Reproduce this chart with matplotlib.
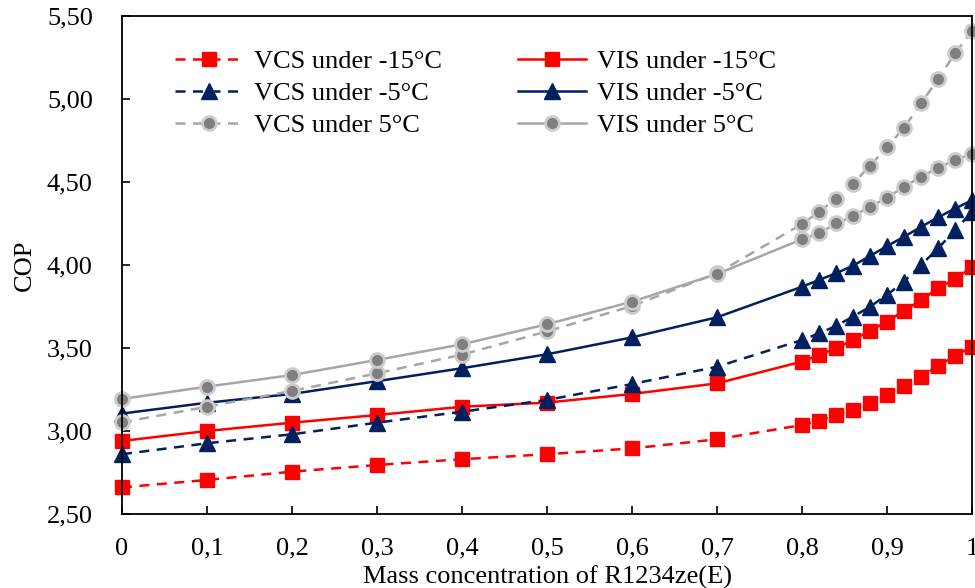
import matplotlib
matplotlib.use('Agg')
import matplotlib.pyplot as plt
from matplotlib.ticker import FuncFormatter, MultipleLocator

plt.rcParams['font.family'] = ['Liberation Serif', 'DejaVu Serif']

# Data
mass_conc = [0, 0.1, 0.2, 0.3, 0.4, 0.5, 0.6, 0.7, 0.8, 0.82, 0.84, 0.86,
             0.88, 0.9, 0.92, 0.94, 0.96, 0.98, 1.0]

vcs_m15 = [2.66, 2.705, 2.755, 2.795, 2.83, 2.86, 2.895, 2.95, 3.036, 3.062,
           3.096, 3.127, 3.167, 3.217, 3.271, 3.327, 3.392, 3.452, 3.508]
vis_m15 = [2.94, 3.0, 3.05, 3.096, 3.146, 3.171, 3.223, 3.287, 3.418, 3.458,
           3.498, 3.548, 3.604, 3.659, 3.725, 3.789, 3.86, 3.916, 3.988]
vcs_m5 = [2.86, 2.926, 2.98, 3.05, 3.116, 3.187, 3.283, 3.387, 3.548, 3.588,
          3.633, 3.689, 3.749, 3.82, 3.90, 4.0, 4.10, 4.21, 4.32]
vis_m5 = [3.105, 3.17, 3.223, 3.30, 3.378, 3.462, 3.564, 3.685, 3.869, 3.91,
          3.95, 3.996, 4.054, 4.114, 4.17, 4.23, 4.287, 4.34, 4.39]
vcs_5 = [3.052, 3.146, 3.241, 3.347, 3.46, 3.60, 3.753, 3.95, 4.247, 4.32,
         4.40, 4.49, 4.598, 4.71, 4.827, 4.974, 5.12, 5.275, 5.41]
vis_5 = [3.193, 3.267, 3.337, 3.428, 3.522, 3.643, 3.779, 3.946, 4.155, 4.19,
         4.25, 4.295, 4.351, 4.405, 4.472, 4.532, 4.586, 4.633, 4.669]

RED = '#FF0000'
NAVY = '#002060'
GRAY = '#A6A6A6'
DOT_FILL = '#7F7F7F'
DOT_EDGE = '#CCCCCC'

fig = plt.figure(figsize=(9.75, 5.88), dpi=100)
ax = fig.add_axes([0.1251, 0.1259, 0.8719, 0.8469])

dash = (0, (4, 3))
lw = 1.8

# Drawing order follows the reference overlaps
l1, = ax.plot(mass_conc, vcs_m15, linestyle=dash, color=RED, lw=lw, marker='s',
              ms=10, mfc=RED, mec=RED, clip_on=False, label='VCS under -15°C')
l4, = ax.plot(mass_conc, vis_m15, linestyle='-', color=RED, lw=lw, marker='s',
              ms=10, mfc=RED, mec=RED, clip_on=False, label='VIS under -15°C')
l2, = ax.plot(mass_conc, vcs_m5, linestyle=dash, color=NAVY, lw=lw, marker='^',
              ms=11, mfc=NAVY, mec=NAVY, clip_on=False, label='VCS under -5°C')
l5, = ax.plot(mass_conc, vis_m5, linestyle='-', color=NAVY, lw=lw, marker='^',
              ms=11, mfc=NAVY, mec=NAVY, clip_on=False, label='VIS under -5°C')
l3, = ax.plot(mass_conc, vcs_5, linestyle=dash, color=GRAY, lw=lw, marker='o',
              ms=10, mfc=DOT_FILL, mec=DOT_EDGE, mew=2.0, clip_on=False,
              label='VCS under 5°C')
l6, = ax.plot(mass_conc, vis_5, linestyle='-', color=GRAY, lw=lw, marker='o',
              ms=10, mfc=DOT_FILL, mec=DOT_EDGE, mew=2.0, clip_on=False,
              label='VIS under 5°C')

ax.set_xlim(0, 1)
ax.set_ylim(2.5, 5.5)
ax.xaxis.set_major_locator(MultipleLocator(0.1))
ax.yaxis.set_major_locator(MultipleLocator(0.5))


# Decimal comma labels
def fmt_x(v, pos):
    if abs(v) < 1e-9:
        return '0'
    if abs(v - 1) < 1e-9:
        return '1'
    return '{:.1f}'.format(v).replace('.', ',')


def fmt_y(v, pos):
    return '{:.2f}'.format(v).replace('.', ',')


ax.xaxis.set_major_formatter(FuncFormatter(fmt_x))
ax.yaxis.set_major_formatter(FuncFormatter(fmt_y))
ax.tick_params(direction='in', length=6, width=1.2, labelsize=19,
               colors='black')
ax.tick_params(axis='x', pad=17)
ax.tick_params(axis='y', pad=21)
for sp in ax.spines.values():
    sp.set_linewidth(1.3)

ax.set_xlabel('Mass concentration of R1234ze(E)', fontsize=19, labelpad=4)
ax.set_ylabel('COP', fontsize=19, labelpad=8)

ax.legend(handles=[l1, l2, l3, l4, l5, l6], ncol=2, frameon=False,
          fontsize=19, numpoints=1, handlelength=2.6, handletextpad=0.4,
          columnspacing=2.86, labelspacing=0.32, loc='upper left',
          bbox_to_anchor=(0.05, 0.954), borderaxespad=0)

fig.savefig('out.png', dpi=100)
